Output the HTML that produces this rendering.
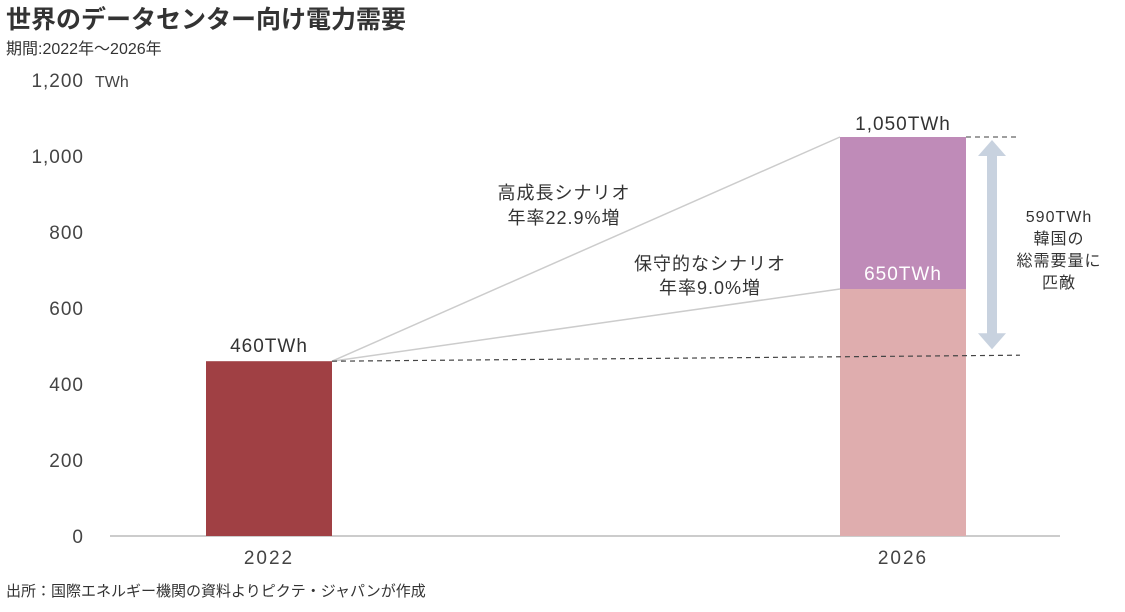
<!DOCTYPE html>
<html><head><meta charset="utf-8"><style>
body{margin:0;background:#fff;width:1125px;height:607px;overflow:hidden;font-family:"Liberation Sans","Noto Sans CJK JP",sans-serif}
</style></head><body>
<svg width="1125" height="607" xmlns="http://www.w3.org/2000/svg" font-family="Liberation Sans, Noto Sans CJK JP, sans-serif">
<text x="6" y="28" font-size="25" font-weight="bold" fill="#333">世界のデータセンター向け電力需要</text>
<text x="6" y="54" font-size="16" fill="#333">期間:2022年～2026年</text>
<text x="95" y="87" font-size="16" fill="#444">TWh</text>
<g id="axis"></g>
<g id="marks"></g>
<text x="6" y="596" font-size="15" fill="#333">出所：国際エネルギー機関の資料よりピクテ・ジャパンが作成</text>
</svg>
<script>
const yTicks=[0,200,400,600,800,1000,1200];
const categories=["2022","2026"];
const baseValues=[460,650];
const highValues=[null,1050];
const baseLabels=["460TWh","650TWh"];
const highLabel="1,050TWh";
const y=v=>536-v*0.38;
const xc=i=>269+i*634;
const bw=126;
const NS="http://www.w3.org/2000/svg";
function mk(t,a,p,txt){const e=document.createElementNS(NS,t);for(const k in a)e.setAttribute(k,a[k]);if(txt!=null)e.textContent=txt;p.appendChild(e);return e;}
const ax=document.getElementById('axis'),mg=document.getElementById('marks');
yTicks.forEach(v=>{const t=mk('text',{x:84,y:y(v)+7,'font-size':19,fill:'#444','text-anchor':'end','letter-spacing':'1'},ax,v.toLocaleString('en-US'));

});
const al=mk('line',{x1:110,x2:1060,y1:536,y2:536,stroke:'#bbb','stroke-width':1.5},ax);


categories.forEach((c,i)=>{const t=mk('text',{x:xc(i),y:564,'font-size':19,fill:'#444','text-anchor':'middle','letter-spacing':'2'},ax,c);

});
const b0=mk('rect',{x:xc(0)-bw/2,y:y(baseValues[0]),width:bw,height:536-y(baseValues[0]),fill:'#a04044'},mg);


const bh=mk('rect',{x:xc(1)-bw/2,y:y(highValues[1]),width:bw,height:y(baseValues[1])-y(highValues[1]),fill:'#bf8bb8'},mg);


const b1=mk('rect',{x:xc(1)-bw/2,y:y(baseValues[1]),width:bw,height:536-y(baseValues[1]),fill:'#dfadae'},mg);


const x0=xc(0)+bw/2,x1=xc(1)-bw/2;
const l1=mk('line',{x1:x0,y1:y(baseValues[0]),x2:x1,y2:y(highValues[1]),stroke:'#ccc','stroke-width':1.5},mg);


const l2=mk('line',{x1:x0,y1:y(baseValues[0]),x2:x1,y2:y(baseValues[1]),stroke:'#ccc','stroke-width':1.5},mg);


const d1=mk('line',{x1:x0,y1:y(baseValues[0]),x2:1020,y2:y(baseValues[0])-6,stroke:'#444','stroke-width':1.2,'stroke-dasharray':'5,4'},mg);


const d2=mk('line',{x1:xc(1)+bw/2,y1:y(highValues[1]),x2:1016,y2:y(highValues[1]),stroke:'#666','stroke-width':1.2,'stroke-dasharray':'5,4'},mg);


const ya=y(highValues[1])+3,yb=y(baseValues[0])-12;
const ar=mk('path',{d:`M992 ${ya} L1006 ${ya+16} L997 ${ya+16} L997 ${yb-16} L1006 ${yb-16} L992 ${yb} L978 ${yb-16} L987 ${yb-16} L987 ${ya+16} L978 ${ya+16} Z`,fill:'#c8d2df'},mg);


function lab(n,x,yy,s,col,txt,anchor){const t=mk('text',{x:x,y:yy,'font-size':s,fill:col,'text-anchor':anchor||'middle','letter-spacing':'1'},mg,txt);

}
lab('label-2022',xc(0),y(baseValues[0])-9,19,'#333',baseLabels[0]);
lab('label-2026-high',xc(1),y(highValues[1])-7,19,'#333',highLabel);
lab('label-2026-conservative',xc(1),y(baseValues[1])-9,19,'#fff',baseLabels[1]);
lab('high-scenario-title',564,199,18,'#333','高成長シナリオ');
lab('high-scenario-rate',564,224,18,'#333','年率22.9%増');
lab('conservative-title',710,270,18,'#333','保守的なシナリオ');
lab('conservative-rate',710,294,18,'#333','年率9.0%増');
lab('diff-value',1059,222,16,'#333','590TWh');
lab('diff-note-1',1059,244,16,'#333','韓国の');
lab('diff-note-2',1059,266,16,'#333','総需要量に');
lab('diff-note-3',1059,288,16,'#333','匹敵');
</script>
</body></html>
